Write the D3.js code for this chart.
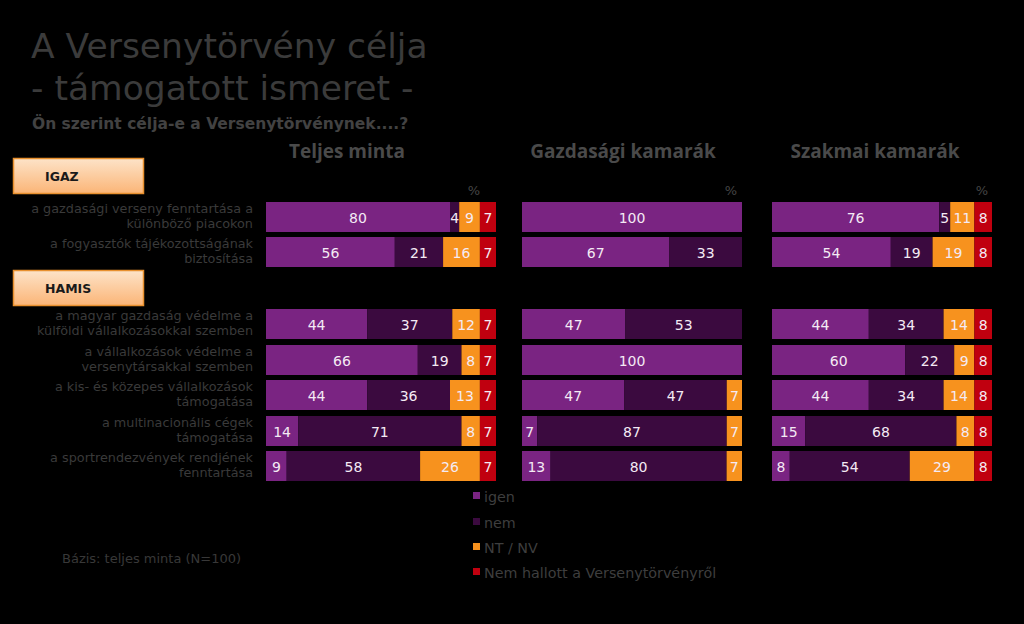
<!DOCTYPE html>
<html><head><meta charset="utf-8">
<script src="https://cdn.jsdelivr.net/npm/d3@7"></script>
<style>body{margin:0;background:#000;}svg{display:block;}</style>
</head><body>
<script>
const series = ["igen", "nem", "NT / NV", "Nem hallott a Versenytörvényről"];
const colors = ["#7a2482", "#3b0a3f", "#f7921e", "#c0000f"];
const panels = ["Teljes minta", "Gazdasági kamarák", "Szakmai kamarák"];
const rowLabels = [
  ["a gazdasági verseny fenntartása a", "különböző piacokon"],
  ["a fogyasztók tájékozottságának", "biztosítása"],
  ["a magyar gazdaság védelme a", "külföldi vállalkozásokkal szemben"],
  ["a vállalkozások védelme a", "versenytársakkal szemben"],
  ["a kis- és közepes vállalkozások", "támogatása"],
  ["a multinacionális cégek", "támogatása"],
  ["a sportrendezvények rendjének", "fenntartása"]
];
const groupLabels = ["IGAZ", "HAMIS"];
// values [igen, nem, NT/NV, nem hallott] per row
const teljes = [[80,4,9,7],[56,21,16,7],[44,37,12,7],[66,19,8,7],[44,36,13,7],[14,71,8,7],[9,58,26,7]];
const gazdasagi = [[100,0,0,0],[67,33,0,0],[47,53,0,0],[100,0,0,0],[47,47,7,0],[7,87,7,0],[13,80,7,0]];
const szakmai = [[76,5,11,8],[54,19,19,8],[44,34,14,8],[60,22,9,8],[44,34,14,8],[15,68,8,8],[8,54,29,8]];
const panelData = [teljes, gazdasagi, szakmai];

const W = 1024, H = 624;
const svg = d3.select("body").append("svg").attr("width", W).attr("height", H);
svg.append("rect").attr("width", W).attr("height", H).attr("fill", "#000");

const FONT = "DejaVu Sans, Verdana, sans-serif";
// titles
svg.append("text").attr("x", 31).attr("y", 58).attr("fill", "#3b3b3b")
  .style("font-family", FONT).style("font-size", "34.5px").text("A Versenytörvény célja");
svg.append("text").attr("x", 31).attr("y", 100).attr("fill", "#3b3b3b")
  .style("font-family", FONT).style("font-size", "34.5px").text("- támogatott ismeret -");
svg.append("text").attr("x", 32).attr("y", 129).attr("fill", "#424242")
  .style("font-family", FONT).style("font-size", "15.5px").style("font-weight", "bold")
  .text("Ön szerint célja-e a Versenytörvénynek....?");

// row positions
const rowY = [202, 237, 309, 345, 380, 416, 451];
const barH = 30;

// panels x ranges
const panelX = [[266, 496], [522, 742], [772, 992]];
const headerX = [347, 623, 875];
const pctX = [474, 731, 982];

panels.forEach((p, i) => {
  svg.append("text").attr("x", headerX[i]).attr("y", 158).attr("text-anchor", "middle")
    .attr("fill", "#4a4a4a").style("font-family", "Open Sans, sans-serif").style("font-weight", "bold")
    .style("font-size", "19px").text(p);
  svg.append("text").attr("x", pctX[i]).attr("y", 195).attr("text-anchor", "middle")
    .attr("fill", "#444").style("font-family", FONT).style("font-size", "13px").text("%");

  const data = panelData[i];
  data.forEach((vals, r) => {
    const total = d3.sum(vals);
    const x = d3.scaleLinear().domain([0, total]).range(panelX[i]);
    let cum = 0;
    const g = svg.append("g");
    vals.forEach((v, k) => {
      const x0 = x(cum), x1 = x(cum + v);
      cum += v;
      if (v <= 0) return;
      g.append("rect").attr("x", x0).attr("y", rowY[r]).attr("width", x1 - x0).attr("height", barH)
        .attr("fill", colors[k]);
      g.append("text").attr("x", (x0 + x1) / 2).attr("y", rowY[r] + barH / 2 + 5.5)
        .attr("text-anchor", "middle").attr("fill", "#f4eaf4")
        .style("font-family", FONT).style("font-size", "14px").text(v);
    });
  });
});

// row labels
rowLabels.forEach((lines, r) => {
  const cy = rowY[r] + barH / 2;
  const t = svg.append("text").attr("text-anchor", "end").attr("fill", "#3a3a3a")
    .style("font-family", FONT).style("font-size", "12.8px");
  lines.forEach((ln, j) => {
    t.append("tspan").attr("x", 253).attr("y", cy - 4 + j * 15).text(ln);
  });
});

// group boxes
const defs = svg.append("defs");
const grad = defs.append("linearGradient").attr("id", "boxg").attr("x1", 0).attr("y1", 0).attr("x2", 0).attr("y2", 1);
grad.append("stop").attr("offset", "0%").attr("stop-color", "#fde3c8");
grad.append("stop").attr("offset", "100%").attr("stop-color", "#fbb577");
const boxY = [158, 270];
groupLabels.forEach((lab, i) => {
  svg.append("rect").attr("x", 13.5).attr("y", boxY[i] + 0.5).attr("width", 130).attr("height", 35)
    .attr("fill", "url(#boxg)").attr("stroke", "#e8902e").attr("stroke-width", 1.5);
  svg.append("text").attr("x", 45).attr("y", boxY[i] + 23).attr("fill", "#1a1a1a")
    .style("font-family", FONT).style("font-weight", "bold").style("font-size", "12.5px").text(lab);
});

// legend
const legY = [497, 523, 548, 573];
series.forEach((s, k) => {
  svg.append("rect").attr("x", 473).attr("y", legY[k] - 5).attr("width", 7).attr("height", 7).attr("fill", colors[k]);
  svg.append("text").attr("x", 484).attr("y", legY[k] + 5).attr("fill", "#3e3e3e")
    .style("font-family", FONT).style("font-size", "14.3px").text(s);
});

svg.append("text").attr("x", 62).attr("y", 563).attr("fill", "#383838")
  .style("font-family", FONT).style("font-size", "13px").text("Bázis: teljes minta (N=100)");
</script>
</body></html>
